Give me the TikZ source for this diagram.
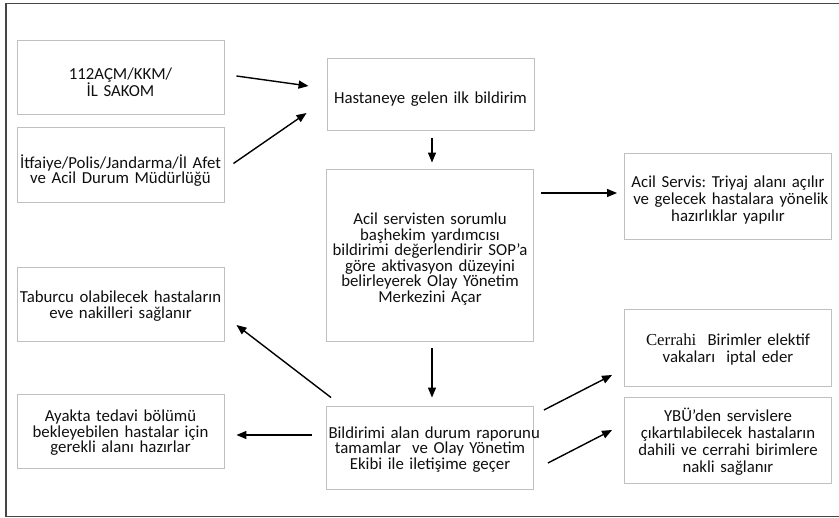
\documentclass[tikz,border=0pt]{standalone}
\usepackage{fontspec}
\setmainfont{Carlito}
\newfontfamily\timesface{Liberation Serif}
\usetikzlibrary{arrows.meta,calc}
\definecolor{boxline}{RGB}{192,192,192}
\definecolor{frameline}{RGB}{70,70,70}
\definecolor{ink}{RGB}{15,15,15}
\frenchspacing
\hyphenpenalty=10000
\exhyphenpenalty=10000
\begin{document}
\begin{tikzpicture}[x=1pt,y=-1pt,
  box/.style={draw=boxline, line width=0.9pt, inner sep=0pt, minimum width=207pt},
  txt/.style={inner sep=0pt, text width=203pt, align=center, text=ink,
    font=\fontsize{16.8}{15.5}\selectfont},
  rtxt/.style={txt, font=\fontsize{16.8}{17}\selectfont},
  arr/.style={draw=black, line width=1.4pt, -{Triangle[length=10pt,width=8pt]}}]
\useasboundingbox (0,0) rectangle (839,518);

% outer frame, open to the right
\draw[frameline, line width=1.6pt] (845,3.5) -- (6,3.5) -- (6,516.5) -- (845,516.5);

% boxes
\node[box, minimum height=74pt]  (b1)  at (120.5,77)   {};
\node[box, minimum height=75pt]  (b2)  at (120.5,164.5) {};
\node[box, minimum height=72pt]  (b3)  at (430.5,94)   {};
\node[box, minimum height=172pt] (b4)  at (430,255)    {};
\node[box, minimum height=86pt]  (b5)  at (728,196)    {};
\node[box, minimum height=74pt]  (b6)  at (120.5,304)  {};
\node[box, minimum height=74pt]  (b7)  at (120.5,431)  {};
\node[box, minimum height=83pt]  (b8)  at (430,447.5)  {};
\node[box, minimum height=77pt]  (b9)  at (728,347.5)  {};
\node[box, minimum height=86pt]  (b10) at (728,440)    {};

% box texts, set a little below each box centre
\node[txt]  (t1)  at ($(b1.center)+(0,5)$)  {112AÇM/KKM/\\İL SAKOM};
\node[txt]  (t2)  at ($(b2.center)+(0,6)$)  {\mbox{İtfaiye/Polis/Jandarma/İl Afet}\\ve Acil Durum Müdürlüğü};
\node[txt]  (t3)  at ($(b3.center)+(0,5)$)  {Hastaneye gelen ilk bildirim};
\node[txt]  (t4)  at ($(b4.center)+(0,4)$)  {Acil servisten sorumlu\\başhekim yardımcısı\\\mbox{bildirimi değerlendirir SOP’a}\\göre aktivasyon düzeyini\\belirleyerek Olay Yönetim\\Merkezini Açar};
\node[rtxt] (t5)  at ($(b5.center)+(0,4)$)  {\mbox{Acil Servis: Triyaj alanı açılır}\\\mbox{\ ve gelecek hastalara yönelik}\\hazırlıklar yapılır};
\node[txt]  (t6)  at ($(b6.center)+(0,2)$)  {\mbox{Taburcu olabilecek hastaların}\\eve nakilleri sağlanır};
\node[txt]  (t7)  at ($(b7.center)+(0,2)$)  {Ayakta tedavi bölümü\\bekleyebilen hastalar için\\gerekli alanı hazırlar};
\node[txt]  (t8)  at ($(b8.center)+(0,2)$)  {\mbox{Bildirimi alan durum raporunu}\\tamamlar \ ve Olay Yönetim\\Ekibi ile iletişime geçer};
\node[rtxt] (t9)  at ($(b9.center)+(0,2)$)  {{\timesface Cerrahi}\ \ Birimler elektif\\vakaları \ iptal eder};
\node[rtxt] (t10) at ($(b10.center)+(0,2)$) {YBÜ’den servislere\\\mbox{çıkartılabilecek hastaların}\\\mbox{dahili ve cerrahi birimlere}\\nakli sağlanır};

% connectors
\draw[arr] ($(b1.east)+(12,-1)$) -- ($(b3.west)+(-18,-8)$);
\draw[arr] ($(b2.east)+(9,-1)$) -- ($(b3.west)+(-20,19)$);
\draw[arr] ($(b3.south)+(1.5,8)$) -- ($(b4.north)+(2,-6)$);
\draw[arr] ($(b4.east)+(7,-62)$) -- ($(b5.west)+(-7,-3)$);
\draw[arr] ($(b4.south)+(2,7)$) -- ($(b8.north)+(2,-8)$);
\draw[arr] ($(b8.north west)+(5,-8)$) -- ($(b6.east)+(12,21)$);
\draw[arr] ($(b8.west)+(-14,-12.5)$) -- ($(b7.east)+(12,4)$);
\draw[arr] ($(b8.east)+(10,-37.5)$) -- ($(b9.west)+(-12,27.5)$);
\draw[arr] ($(b8.east)+(14,15.5)$) -- ($(b10.west)+(-12,-10)$);
\end{tikzpicture}
\end{document}
